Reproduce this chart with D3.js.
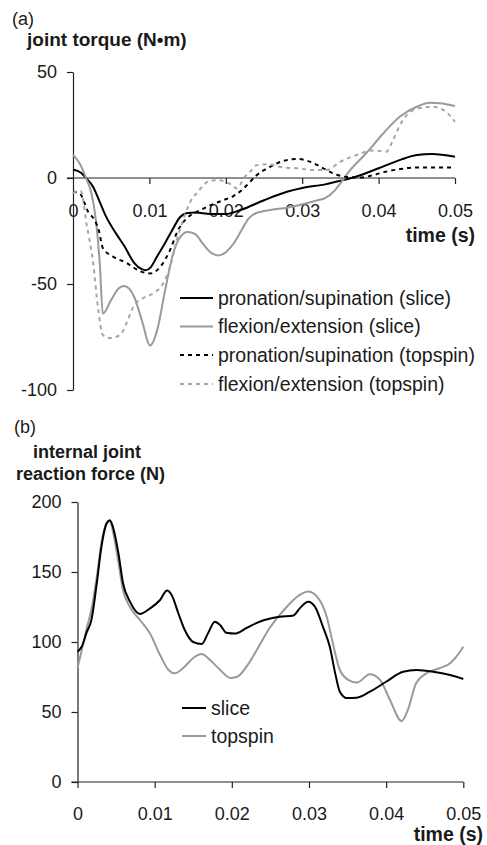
<!DOCTYPE html>
<html>
<head>
<meta charset="utf-8">
<script src="https://cdn.jsdelivr.net/npm/d3@7"></script>
<style>
  html, body { margin: 0; padding: 0; background: #fff; }
  svg { display: block; font-family: "Liberation Sans", Arial, sans-serif; }
</style>
</head>
<body>
<svg id="chart" width="487" height="845"></svg>
<script>
// ---------- Data (time in s, values) ----------
// Panel (a): joint torque (N·m)
const proSlice = [[0,4],[0.00105,2.5],[0.0017,0],[0.0026,-4],[0.0034,-10.4],[0.0043,-18],[0.0056,-26],[0.0067,-32],[0.008,-40],[0.009,-43],[0.0095,-43.5],[0.0102,-42],[0.011,-37],[0.012,-31],[0.013,-24.5],[0.014,-18.5],[0.015,-16.5],[0.016,-16.3],[0.018,-17],[0.02,-17],[0.022,-15],[0.025,-10.5],[0.028,-6.5],[0.03,-4.7],[0.033,-3],[0.035,-1.3],[0.037,0.6],[0.04,4.6],[0.043,8.8],[0.045,10.8],[0.047,11.3],[0.05,10]];
const flexSlice = [[0,11],[0.001,6],[0.0017,0],[0.0024,-7],[0.003,-20],[0.0035,-40],[0.0039,-64],[0.005,-57.5],[0.006,-52],[0.0067,-51],[0.008,-56],[0.009,-67],[0.0101,-79],[0.011,-72],[0.012,-54],[0.013,-37],[0.014,-28],[0.015,-25.5],[0.016,-26.5],[0.017,-31],[0.018,-35],[0.019,-36.5],[0.02,-35],[0.021,-31],[0.022,-25],[0.023,-19],[0.024,-16.5],[0.026,-15],[0.028,-14],[0.0297,-12.7],[0.032,-10.5],[0.033,-9.5],[0.0343,-5.7],[0.035,-2.5],[0.0363,3.8],[0.0384,11.8],[0.0406,21],[0.0428,29],[0.045,33.6],[0.0467,35.5],[0.048,35.3],[0.05,34]];
const proTop = [[0,-6.5],[0.0008,-7],[0.002,-16],[0.003,-21],[0.0034,-25],[0.0039,-33],[0.0052,-37],[0.007,-40],[0.0088,-44],[0.0101,-45],[0.0114,-42],[0.0127,-34],[0.0137,-25],[0.0149,-19],[0.0162,-16],[0.0179,-13],[0.02,-10],[0.021,-8.5],[0.022,-6],[0.023,-2.5],[0.024,1.2],[0.0254,4.5],[0.0275,8],[0.0293,9],[0.031,7.7],[0.0327,4.7],[0.034,2.3],[0.0358,0.5],[0.0376,0.2],[0.0393,1.4],[0.041,3],[0.0428,4.2],[0.045,5],[0.05,5]];
const flexTop = [[0,-7],[0.001,-6],[0.0014,-12],[0.0017,-20],[0.0021,-28],[0.0026,-39],[0.0033,-62],[0.0039,-74],[0.0048,-75.5],[0.0062,-74],[0.007,-68.5],[0.0079,-60.7],[0.0092,-56.6],[0.0105,-54.4],[0.0118,-49.7],[0.0127,-42],[0.0136,-29],[0.0144,-20],[0.0157,-9],[0.0162,-7.2],[0.0171,-3.3],[0.0179,-1.3],[0.0188,-1],[0.0199,-1.7],[0.0208,-3.3],[0.0214,-4.9],[0.0225,0.6],[0.0234,3.8],[0.024,6],[0.0254,6.5],[0.0275,5],[0.0297,4.5],[0.031,3.8],[0.0332,3.8],[0.035,7.7],[0.0371,10.8],[0.0393,13],[0.041,12.4],[0.0419,18],[0.0428,25],[0.0437,29.7],[0.0454,33],[0.0471,33.6],[0.0489,31],[0.05,26.5]];

// Panel (b): internal joint reaction force (N)
const forceSlice = [[0,93],[0.00054,96.6],[0.0012,107],[0.0018,115.7],[0.0025,142],[0.0031,168],[0.0038,185],[0.0042,187],[0.0046,182],[0.0053,163.5],[0.0059,142],[0.0068,128.8],[0.0081,120],[0.0094,124],[0.0107,130],[0.0116,136.7],[0.0122,133.6],[0.0131,120],[0.0139,108.6],[0.015,100],[0.0161,98.6],[0.0169,106],[0.0178,114.5],[0.0185,112],[0.0193,106.6],[0.0204,106],[0.0219,110],[0.0236,114.5],[0.0262,118],[0.028,119],[0.0288,124],[0.0299,128.8],[0.0308,125],[0.0318,111],[0.0327,96.6],[0.0334,77.6],[0.034,64.5],[0.0349,60],[0.0362,60.2],[0.0379,64.5],[0.04,71.6],[0.0422,78.8],[0.0439,80],[0.0461,78.8],[0.0483,76.4],[0.05,73.6]];
const forceTop = [[0,81.4],[0.00054,94],[0.0012,110],[0.0018,123],[0.0025,146.6],[0.0031,170.7],[0.0038,185],[0.0042,186],[0.0046,178.8],[0.0053,157],[0.0059,137],[0.0068,125],[0.0081,115.7],[0.0094,106],[0.0107,90.7],[0.0118,80],[0.0126,77.6],[0.0137,81.4],[0.015,88.6],[0.0161,91.4],[0.0172,87],[0.0185,80],[0.0198,74.3],[0.0207,75.2],[0.0219,82.4],[0.0232,94],[0.0249,110],[0.0271,125],[0.0288,133.6],[0.0299,136],[0.0312,131.4],[0.0323,118],[0.0331,99],[0.034,80],[0.0351,72.9],[0.0362,71],[0.0379,77],[0.0392,73],[0.0405,58.6],[0.042,43.6],[0.0428,51.4],[0.0439,70.7],[0.0452,77.6],[0.047,81.4],[0.0483,84.8],[0.0491,89.5],[0.05,96.6]];

// Tick labels
const xTicks = [0, 0.01, 0.02, 0.03, 0.04, 0.05];
const xTickLabels = ["0", "0.01", "0.02", "0.03", "0.04", "0.05"];
const yTicksA = [50, 0, -50, -100];
const yTickLabelsA = ["50", "0", "-50", "-100"];
const yTicksB = [0, 50, 100, 150, 200];
const yTickLabelsB = ["0", "50", "100", "150", "200"];

const seriesA = [
  { name: "pronation/supination (slice)",   data: proSlice,  color: "#000000", dash: null },
  { name: "flexion/extension (slice)",      data: flexSlice, color: "#9a9a9a", dash: null },
  { name: "pronation/supination (topspin)", data: proTop,    color: "#000000", dash: "4,4" },
  { name: "flexion/extension (topspin)",    data: flexTop,   color: "#a6a6a6", dash: "4,4" }
];
const seriesB = [
  { name: "slice",   data: forceSlice, color: "#000000" },
  { name: "topspin", data: forceTop,   color: "#9a9a9a" }
];

// ---------- Drawing ----------
const svg = d3.select("#chart");
const axisColor = "#222";
const textColor = "#1a1a1a";
const tickFont = 18;
const legendFont = 19.5;

function drawAxis(g, axis) {
  g.call(axis);
  g.select(".domain").attr("stroke", axisColor).attr("stroke-width", 1.2);
  g.selectAll(".tick line").attr("stroke", axisColor).attr("stroke-width", 1.2);
  g.selectAll(".tick text").attr("fill", textColor).attr("font-size", tickFont)
    .attr("font-family", "Liberation Sans, Arial, sans-serif");
}

// ===== Panel (a) =====
const xA = d3.scaleLinear().domain([0, 0.05]).range([73, 455]);
const yA = d3.scaleLinear().domain([-100, 50]).range([390, 72]);

svg.append("text").attr("x", 12).attr("y", 25).attr("font-size", 18).attr("fill", textColor).text("(a)");
svg.append("text").attr("x", 27).attr("y", 46).attr("font-size", 19).attr("font-weight", "bold")
  .attr("fill", textColor).text("joint torque (N\u2022m)");

// y axis
const gyA = svg.append("g").attr("transform", `translate(${xA(0)},0)`);
drawAxis(gyA, d3.axisLeft(yA).tickValues(yTicksA).tickSize(6).tickSizeOuter(0).tickPadding(10)
  .tickFormat((d, i) => yTickLabelsA[i]));

// x axis at y = 0
const gxA = svg.append("g").attr("transform", `translate(0,${yA(0)})`);
drawAxis(gxA, d3.axisBottom(xA).tickValues(xTicks).tickSize(6).tickSizeOuter(0).tickPadding(20)
  .tickFormat((d, i) => xTickLabels[i]));
gxA.select(".domain").attr("d", `M${xA(0) - 6},0H${xA(0.05)}`);
gxA.selectAll(".tick").filter(d => d === 0).select("line").remove();

svg.append("text").attr("x", 475).attr("y", 242).attr("text-anchor", "end").attr("font-size", 19.5)
  .attr("font-weight", "bold").attr("fill", textColor).text("time (s)");

const lineA = d3.line().x(d => xA(d[0])).y(d => yA(d[1])).curve(d3.curveMonotoneX);
svg.append("g").selectAll("path").data(seriesA).join("path")
  .attr("d", d => lineA(d.data))
  .attr("fill", "none")
  .attr("stroke", d => d.color)
  .attr("stroke-width", 2)
  .attr("stroke-dasharray", d => d.dash);

// legend (a)
const legA = svg.append("g");
const legARows = [298, 326.5, 355, 384];
seriesA.forEach((s, i) => {
  const y = legARows[i];
  legA.append("line").attr("x1", 180).attr("x2", 213).attr("y1", y).attr("y2", y)
    .attr("stroke", s.color).attr("stroke-width", 2).attr("stroke-dasharray", s.dash);
  legA.append("text").attr("x", 218).attr("y", y + 6.5).attr("font-size", legendFont).attr("fill", textColor).text(s.name);
});

// ===== Panel (b) =====
const xB = d3.scaleLinear().domain([0, 0.05]).range([77.5, 463.3]);
const yB = d3.scaleLinear().domain([0, 200]).range([782, 502]);

svg.append("text").attr("x", 14).attr("y", 433).attr("font-size", 18).attr("fill", textColor).text("(b)");
svg.append("text").attr("x", 33).attr("y", 458).attr("font-size", 18).attr("font-weight", "bold")
  .attr("fill", textColor).text("internal joint");
svg.append("text").attr("x", 16).attr("y", 480).attr("font-size", 18).attr("font-weight", "bold")
  .attr("fill", textColor).text("reaction force (N)");

const gyB = svg.append("g").attr("transform", `translate(${xB(0)},0)`);
drawAxis(gyB, d3.axisLeft(yB).tickValues(yTicksB).tickSize(6).tickSizeOuter(0).tickPadding(10)
  .tickFormat((d, i) => yTickLabelsB[i]));

const gxB = svg.append("g").attr("transform", `translate(0,${yB(0)})`);
drawAxis(gxB, d3.axisBottom(xB).tickValues(xTicks).tickSize(6).tickSizeOuter(0).tickPadding(19)
  .tickFormat((d, i) => xTickLabels[i]));
gxB.select(".domain").attr("d", `M${xB(0) - 6},0H${xB(0.05)}`);

svg.append("text").attr("x", 483).attr("y", 841).attr("text-anchor", "end").attr("font-size", 19.5)
  .attr("font-weight", "bold").attr("fill", textColor).text("time (s)");

const lineB = d3.line().x(d => xB(d[0])).y(d => yB(d[1])).curve(d3.curveMonotoneX);
// draw topspin first so slice sits on top
svg.append("g").selectAll("path").data(seriesB.slice().reverse()).join("path")
  .attr("d", d => lineB(d.data))
  .attr("fill", "none")
  .attr("stroke", d => d.color)
  .attr("stroke-width", 2);

const legB = svg.append("g");
const legBRows = [708, 736];
seriesB.forEach((s, i) => {
  const y = legBRows[i];
  legB.append("line").attr("x1", 182).attr("x2", 206).attr("y1", y).attr("y2", y)
    .attr("stroke", s.color).attr("stroke-width", 2);
  legB.append("text").attr("x", 211).attr("y", y + 6.5).attr("font-size", legendFont).attr("fill", textColor).text(s.name);
});
</script>
</body>
</html>
